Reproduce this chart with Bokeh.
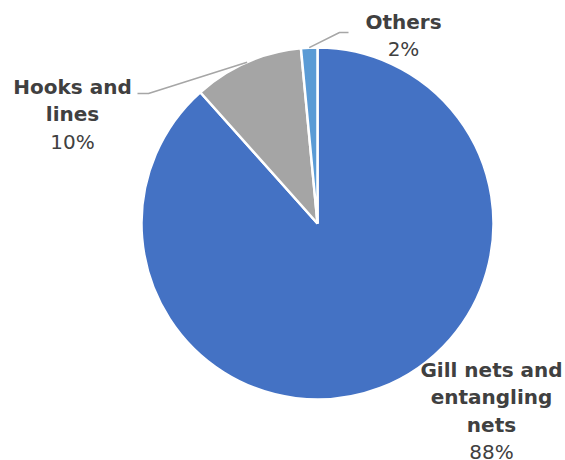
import math
from bokeh.plotting import figure
from bokeh.models import Range1d, ColumnDataSource
from bokeh.core.properties import value
from bokeh.embed import file_html
from bokeh.resources import INLINE

# ---- data ----
categories = ["Gill nets and\nentangling\nnets", "Hooks and\nlines", "Others"]
values = [88.4, 10.1, 1.5]
colors = ["#4472C4", "#A5A5A5", "#5B9BD5"]

# ---- layout (screen pixels in the 565x460 window) ----
W, H = 565, 460
CX, CY, R = 317, 223, 176
label_anchor = [(491, 369), (72, 86), (403, 21)]   # centre of first line
leader_elbow = [None, [(148, 93), (137, 93)], [(339, 32), (348, 32)]]
LINE_STEP = 27.5
TEXT_COLOR = "#404040"

def sy(y):  # screen y -> data y
    return H - y

p = figure(width=W, height=H, output_backend="svg", toolbar_location=None,
           x_range=Range1d(0, W), y_range=Range1d(0, H), min_border=0)
p.axis.visible = False
p.grid.visible = False
p.outline_line_color = None
p.background_fill_color = "white"
p.border_fill_color = "white"

total = sum(values)
starts, ends, mids = [], [], []
cum = 0.0
for v in values:
    a0 = math.pi / 2 - 2 * math.pi * (cum + v) / total
    a1 = math.pi / 2 - 2 * math.pi * cum / total
    starts.append(a0)
    ends.append(a1)
    mids.append((a0 + a1) / 2)
    cum += v

src = ColumnDataSource(dict(start=starts, end=ends, color=colors, cat=categories, val=values))
p.wedge(x=CX, y=sy(CY), radius=R, start_angle="start", end_angle="end",
        fill_color="color", line_color="white", line_width=2.5, source=src)

# leader lines
for i, elbow in enumerate(leader_elbow):
    if elbow is None:
        continue
    px = CX + R * math.cos(mids[i])
    py = sy(CY) + R * math.sin(mids[i])
    xs = [px] + [e[0] for e in elbow]
    ys = [py] + [sy(e[1]) for e in elbow]
    p.line(xs, ys, line_color="#A6A6A6", line_width=1.5)

# labels
lx, ly, lt, ls = [], [], [], []
for i, cat in enumerate(categories):
    ax, ay = label_anchor[i]
    lines = cat.split("\n")
    for j, ln in enumerate(lines):
        lx.append(ax); ly.append(sy(ay + j * LINE_STEP)); lt.append(ln); ls.append("bold")
    pct = int(values[i] / total * 100 + 0.5)
    lx.append(ax); ly.append(sy(ay + len(lines) * LINE_STEP)); lt.append(f"{pct}%"); ls.append("normal")

lsrc = ColumnDataSource(dict(x=lx, y=ly, text=lt, style=ls))
p.text(x="x", y="y", text="text", source=lsrc, text_font=value("DejaVu Sans"),
       text_font_style="style", text_font_size="20px", text_color=TEXT_COLOR,
       text_align="center", text_baseline="middle")

open("out.html", "w").write(file_html(p, INLINE))
